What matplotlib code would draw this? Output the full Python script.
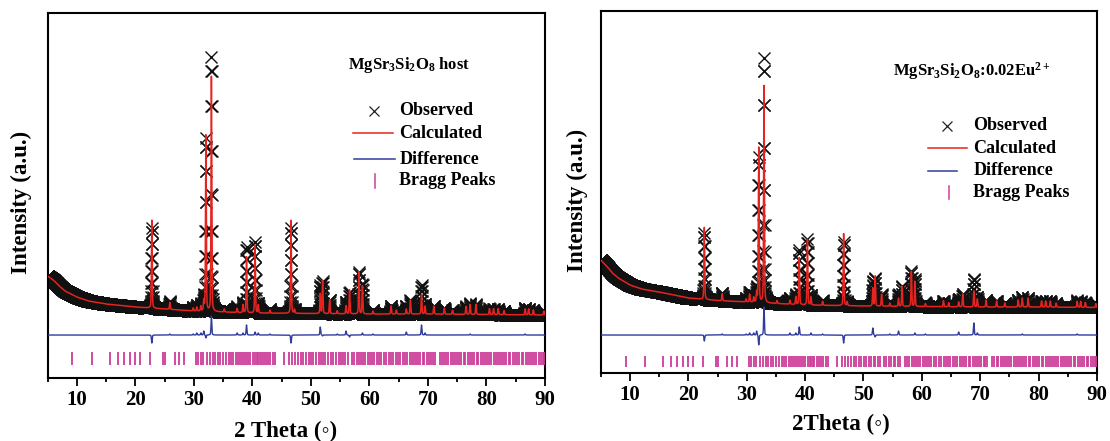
import numpy as np
import matplotlib.pyplot as plt
from matplotlib.ticker import MultipleLocator

plt.rcParams['font.family'] = ['Liberation Serif', 'DejaVu Sans']
plt.rcParams['font.weight'] = 'bold'
plt.rcParams['mathtext.fontset'] = 'custom'
plt.rcParams['mathtext.rm'] = 'Liberation Serif:bold'
plt.rcParams['mathtext.it'] = 'Liberation Serif:bold'
plt.rcParams['mathtext.bf'] = 'Liberation Serif:bold'
plt.rcParams['mathtext.default'] = 'rm'

# --- measured pattern, host sample ---
bg_host_2t = [5, 6, 7, 8, 10, 12, 15, 20, 25, 30, 40, 50, 60, 70, 80, 90]
bg_host_int = [101.7, 97.7, 91.7, 86.7, 80.7, 76.7, 73.7, 70.7, 68.7, 66.7,
               64.7, 64.2, 63.7, 63.7, 63.2, 62.7]
peak_host_2t = [22.82, 25.90, 29.90, 30.50, 31.20, 31.70, 32.06, 33.00, 35.20,
                37.40, 38.40, 39.00, 40.46, 41.00, 43.00, 46.60, 47.20, 51.60,
                52.00, 53.20, 54.50, 56.00, 56.60, 58.20, 58.80, 60.60, 63.70,
                64.60, 66.30, 67.00, 68.90, 69.50, 71.00, 72.80, 74.20, 76.50,
                77.20, 78.20, 80.50, 81.20, 82.00, 83.00, 86.60, 87.20, 88.00,
                89.80]
calc_host_h = [88, 7, 3, 4, 5, 10, 176, 235, 3, 4, 8, 56, 68, 8, 3, 93, 4, 20,
               33, 14, 3, 8, 24, 42, 28, 3, 8, 4, 5, 14, 19, 8, 8, 6, 4, 8, 10,
               10, 6, 6, 6, 4, 6, 6, 5, 4]
obs_host_h = [80, 8, 4, 6, 7, 14, 173, 254, 3, 6, 10, 66, 71, 10, 4, 85, 4, 28,
              32, 14, 4, 12, 22, 42, 30, 4, 8, 4, 8, 14, 29, 10, 8, 6, 4, 8, 11,
              10, 6, 6, 6, 4, 7, 6, 5, 4]

# --- measured pattern, Eu-doped sample ---
bg_eu_2t = [5, 6, 7, 8, 10, 12, 15, 20, 25, 30, 40, 50, 60, 70, 80, 90]
bg_eu_int = [113, 107, 100, 95, 88, 84, 81, 75, 72.5, 71, 68, 67, 66.5, 66,
             66, 65.5]
peak_eu_2t = [22.74, 25.80, 29.90, 30.50, 31.20, 31.70, 32.06, 32.96, 35.20,
              37.40, 38.40, 39.00, 40.40, 41.00, 43.00, 46.60, 47.20, 51.60,
              52.00, 53.10, 54.50, 56.00, 56.60, 58.20, 58.80, 60.60, 63.70,
              64.60, 66.30, 67.00, 68.90, 69.50, 71.00, 72.80, 74.20, 76.50,
              77.20, 78.20, 80.50, 81.20, 82.00, 83.00, 86.60, 87.20, 88.00,
              89.80]
calc_eu_h = [72, 7, 3, 8, 5, 10, 155, 217, 3, 4, 8, 47, 66, 8, 4, 72, 4, 18,
             30, 12, 3, 8, 20, 35, 25, 3, 6, 4, 5, 13, 16, 8, 7, 6, 4, 7, 9,
             9, 6, 6, 6, 4, 6, 6, 5, 4]
obs_eu_h = [66, 8, 4, 10, 7, 14, 145, 245, 3, 6, 10, 55, 66, 10, 5, 64, 4, 25,
            28, 12, 4, 12, 20, 35, 27, 4, 6, 4, 8, 13, 28, 10, 7, 6, 4, 7, 10,
            9, 6, 6, 6, 4, 7, 6, 5, 4]

# reflection positions of the MgSr3Si2O8 phase
bragg_2t = [9.25, 12.65, 15.70, 17.05, 18.10, 19.10, 19.90, 20.75, 22.55,
            24.70, 25.10, 26.70, 27.40, 28.30,
            30.38, 30.78, 31.18, 31.64, 32.21, 32.78, 33.24, 33.63, 34.09,
            34.49, 35.06, 35.51, 36.03, 36.31, 36.66, 37.22, 37.62, 37.91,
            38.25, 38.59, 38.93, 39.33, 39.62, 40.07, 40.42, 40.76, 41.04,
            41.32, 41.61, 42.01, 42.35, 42.74, 43.03, 43.50, 43.89,
            45.48, 46.34, 46.79, 47.36, 47.82, 48.33, 48.73, 49.19, 49.65,
            50.04, 50.44, 50.90, 51.36, 51.75, 52.04, 52.49, 52.90, 53.46,
            53.86, 54.32, 54.78, 55.17, 55.46, 55.91, 56.31,
            57.05, 57.45, 57.86, 58.30, 58.64, 58.98, 59.33, 59.73, 60.13,
            60.47, 60.86, 61.27, 61.62, 62.01, 62.41, 62.86, 63.32, 63.72,
            64.11, 64.50, 64.90, 65.30, 65.70, 66.00, 66.50, 66.90, 67.20,
            67.60, 68.00, 68.30, 68.70, 69.10, 69.40, 69.80, 70.20, 70.60,
            70.90, 71.20, 72.00, 72.40, 72.80, 73.10, 73.50, 73.90, 74.20,
            74.60, 75.00, 75.30, 75.70, 76.10, 76.40, 76.80, 77.20, 77.50,
            77.90, 78.30, 78.60, 79.00, 79.40, 79.70, 80.10, 80.50, 80.80,
            81.20, 81.60, 81.90, 82.30, 82.70, 83.00, 83.40, 83.80, 84.10,
            84.50, 84.90, 85.20, 85.60, 86.00, 86.30, 86.70, 87.10, 87.40,
            87.80, 88.20, 88.50, 88.90, 89.30, 89.60, 89.90]

RED = '#e6231f'
BLUE = '#2f3c9e'
PINK = '#cc3d98'

two_theta = np.linspace(5, 90, 4251)


def pseudo_voigt(x, x0, fwhm=0.15, eta=0.35):
    u = (x - x0) / fwhm
    return eta / (1 + 4 * u ** 2) + (1 - eta) * np.exp(-4 * np.log(2) * u ** 2)


def pattern(bg_x, bg_y, pos, heights):
    y = np.interp(two_theta, bg_x, bg_y)
    for p, h in zip(pos, heights):
        y = y + h * pseudo_voigt(two_theta, p)
    return y


def draw_panel(ax, bg_x, bg_y, pos, calc_h, obs_h, ymax, diff_off, tick_lo,
               tick_hi, label, label_xy, xlabel, xlabel_xy, ylabel_xy, leg):
    calc = pattern(bg_x, bg_y, pos, calc_h)
    obs = pattern(bg_x, bg_y, pos, obs_h)
    diff = obs - calc + diff_off

    ax.plot(two_theta, obs, ls='none', marker='x', ms=8, mew=1.0,
            color='#111111', zorder=2)
    ax.plot(two_theta, calc, color=RED, lw=1.1, zorder=3)
    ax.plot(two_theta, diff, color=BLUE, lw=1.0, zorder=3)
    ax.vlines(bragg_2t, tick_lo, tick_hi, color=PINK, lw=1.3, zorder=3)

    ax.set_xlim(5, 90)
    ax.set_ylim(0, ymax)
    ax.set_yticks([])
    ax.xaxis.set_major_locator(MultipleLocator(10))
    ax.xaxis.set_minor_locator(MultipleLocator(5))
    ax.tick_params(axis='x', which='major', direction='out', length=6,
                   width=1.3, labelsize=15, pad=3)
    ax.tick_params(axis='x', which='minor', direction='out', length=3,
                   width=1.3)
    for s in ax.spines.values():
        s.set_linewidth(1.5)

    ax.text(label_xy[0], label_xy[1], label, transform=ax.transAxes,
            fontsize=12, ha='left', va='baseline')
    ax.text(xlabel_xy[0], xlabel_xy[1], xlabel, transform=ax.transAxes,
            fontsize=16.5, ha='center', va='center')
    ax.text(ylabel_xy[0], ylabel_xy[1], 'Intensity (a.u.)', rotation=90,
            transform=ax.transAxes, fontsize=16.5, ha='center', va='center')

    # hand-placed legend
    t = ax.transAxes
    tx = leg['text_x']
    ax.plot([leg['obs'][0]], [leg['obs'][1]], marker='x', ms=7.5, mew=0.9,
            color='#222222', transform=t)
    ax.text(tx, leg['obs'][1], 'Observed', transform=t, fontsize=13,
            va='center')
    x0, x1, y = leg['calc']
    ax.plot([x0, x1], [y, y], color=RED, lw=1.1, transform=t)
    ax.text(tx, y, 'Calculated', transform=t, fontsize=13, va='center')
    x0, x1, y = leg['diff']
    ax.plot([x0, x1], [y, y], color=BLUE, lw=1.1, transform=t)
    ax.text(tx, y, 'Difference', transform=t, fontsize=13, va='center')
    x, y = leg['bragg']
    ax.plot([x, x], [y - 0.019, y + 0.019], color=PINK, lw=1.1, transform=t)
    ax.text(tx, y, 'Bragg Peaks', transform=t, fontsize=13, va='center')


fig = plt.figure(figsize=(11.1, 4.41), dpi=100)
ax1 = fig.add_axes([0.0428, 0.1435, 0.4482, 0.8277])
ax2 = fig.add_axes([0.5412, 0.1542, 0.4471, 0.8215])

draw_panel(ax1, bg_host_2t, bg_host_int, peak_host_2t, calc_host_h, obs_host_h,
           365, 42.7, 12.7, 26,
           r'MgSr$_3$Si$_2$O$_8$ host', (0.604, 0.845),
           '2 Theta (\u25e6)', (0.479, -0.146), (-0.053, 0.48),
           {'text_x': 0.707, 'obs': (0.656, 0.7315),
            'calc': (0.614, 0.694, 0.670), 'diff': (0.616, 0.698, 0.598),
            'bragg': (0.658, 0.540)})

draw_panel(ax2, bg_eu_2t, bg_eu_int, peak_eu_2t, calc_eu_h, obs_eu_h,
           362.3, 38, 6.3, 17,
           r'MgSr$_3$Si$_2$O$_8$:0.02Eu$^{2+}$', (0.589, 0.820),
           '2Theta (\u25e6)', (0.484, -0.143), (-0.048, 0.477),
           {'text_x': 0.7505, 'obs': (0.697, 0.682),
            'calc': (0.659, 0.738, 0.620), 'diff': (0.659, 0.718, 0.558),
            'bragg': (0.702, 0.498)})

fig.savefig('out.png', dpi=100)
